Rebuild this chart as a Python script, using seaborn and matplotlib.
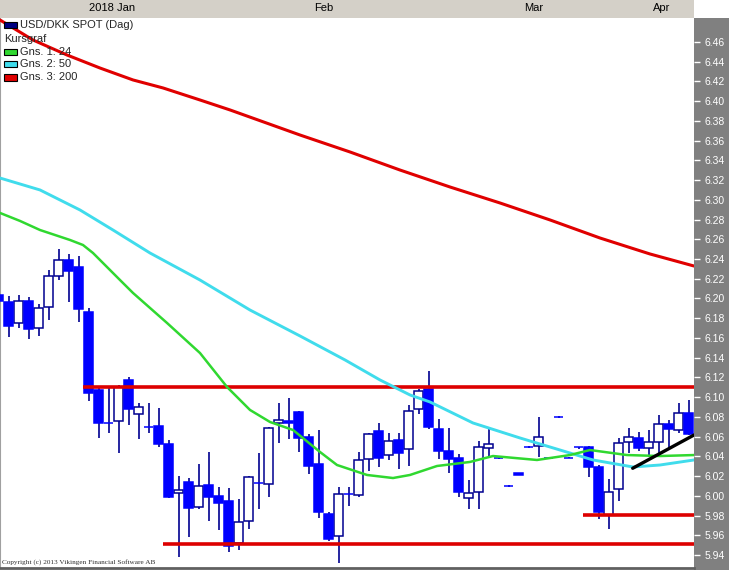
import matplotlib
matplotlib.use('Agg')

import matplotlib.pyplot as plt
from matplotlib.patches import Rectangle
import seaborn as sns
import numpy as np
import pandas as pd

# trading days on screen: Dec 29 2017 .. Apr 6 2018 (no Jan 1)
dates = pd.bdate_range('2017-12-29', '2018-04-06')
dates = dates[dates != pd.Timestamp('2018-01-01')]

open_ = [6.2035, 6.1967, 6.1748, 6.1975, 6.1698, 6.1917, 6.2228, 6.2390, 6.2316, 6.1863,
         6.1072, 6.0736, 6.0761, 6.1174, 6.0829, 6.0701, 6.0707, 6.0525, 6.0025, 6.0137,
         5.9889, 6.0109, 5.9998, 5.9947, 5.9526, 5.9744, 6.0128, 6.0116, 6.0741, 6.0758,
         6.0846, 6.0593, 6.0319, 5.9815, 5.9589, 6.0019, 6.0008, 6.0370, 6.0657, 6.0413,
         6.0566, 6.0471, 6.0880, 6.1079, 6.0677, 6.0457, 6.0383, 5.9975, 6.0041, 6.0481,
         6.0381, 6.0103, 6.0228, 6.0493, 6.0505, 6.0387, 6.0797, 6.0387, 6.0493, 6.0492,
         6.0289, 5.9805, 6.0066, 6.0542, 6.0589, 6.0481, 6.0548, 6.0728, 6.0667, 6.0836]
high = [6.2066, 6.2025, 6.2035, 6.2012, 6.1944, 6.2289, 6.2499, 6.2451, 6.2431, 6.1901,
        6.1116, 6.1106, 6.1123, 6.1207, 6.0938, 6.0944, 6.0893, 6.0566, 6.0201, 6.0177,
        6.0322, 6.0447, 6.0092, 6.0079, 5.9967, 6.0201, 6.0431, 6.0697, 6.0944, 6.0988,
        6.0859, 6.0626, 6.0667, 5.9836, 6.0086, 6.0092, 6.0441, 6.0640, 6.0741, 6.0640,
        6.0640, 6.0920, 6.1079, 6.1265, 6.0778, 6.0684, 6.0421, 6.0160, 6.0555, 6.0684,
        6.0388, 6.0110, 6.0232, 6.0500, 6.0796, 6.0394, 6.0804, 6.0394, 6.0498, 6.0505,
        6.0312, 6.0167, 6.0583, 6.0690, 6.0644, 6.0667, 6.0819, 6.0768, 6.0938, 6.0971]
low = [6.1944, 6.1613, 6.1698, 6.1592, 6.1623, 6.1782, 6.2187, 6.1967, 6.1765, 6.0964,
       6.0583, 6.0637, 6.0437, 6.0718, 6.0573, 6.0633, 6.0492, 5.9981, 5.9376, 5.9585,
       5.9863, 5.9747, 5.9653, 5.9430, 5.9450, 5.9660, 5.9863, 5.9991, 6.0532, 6.0576,
       6.0447, 6.0218, 5.9772, 5.9545, 5.9322, 5.9900, 5.9991, 6.0254, 6.0289, 6.0363,
       6.0269, 6.0302, 6.0826, 6.0677, 6.0373, 6.0228, 5.9985, 5.9863, 5.9863, 6.0396,
       6.0372, 6.0092, 6.0210, 6.0482, 6.0396, 6.0375, 6.0785, 6.0378, 6.0472, 6.0187,
       5.9762, 5.9660, 5.9950, 6.0431, 6.0454, 6.0396, 6.0413, 6.0481, 6.0633, 6.0616]
close = [6.1975, 6.1724, 6.1975, 6.1694, 6.1901, 6.2228, 6.2390, 6.2282, 6.1896, 6.1039,
         6.0735, 6.0735, 6.1100, 6.0877, 6.0897, 6.0700, 6.0522, 5.9991, 6.0059, 5.9873,
         6.0099, 5.9991, 5.9930, 5.9491, 5.9731, 6.0187, 6.0127, 6.0684, 6.0768, 6.0741,
         6.0583, 6.0305, 5.9833, 5.9559, 6.0015, 6.0018, 6.0363, 6.0626, 6.0386, 6.0555,
         6.0437, 6.0859, 6.1062, 6.0700, 6.0457, 6.0373, 6.0041, 6.0025, 6.0492, 6.0522,
         6.0380, 6.0102, 6.0214, 6.0492, 6.0593, 6.0386, 6.0796, 6.0386, 6.0492, 6.0289,
         5.9839, 6.0035, 6.0532, 6.0599, 6.0481, 6.0542, 6.0725, 6.0674, 6.0836, 6.0623]

# moving averages (x = bar number, Jan 2 = 0)
ma24_x = [-0.85, 1.15, 3.15, 6.15, 7.45, 8.45, 9.15, 11.15, 12.45, 15.85, 19.15, 21.85, 24.15,
          26.15, 28.45, 31.15, 32.85, 35.85, 38.45, 40.15, 42.85, 46.15, 48.45, 52.85, 56.15,
          58.15, 61.85, 65.15, 68.55]
ma24_y = [6.2867, 6.2786, 6.2694, 6.2593, 6.2542, 6.2461, 6.2390, 6.2187, 6.2056, 6.1752, 6.1447,
          6.1103, 6.0870, 6.0748, 6.0667, 6.0444, 6.0312, 6.0211, 6.0180, 6.0211, 6.0302, 6.0343,
          6.0403, 6.0363, 6.0413, 6.0464, 6.0413, 6.0403, 6.0413]
ma50_x = [-0.85, 3.15, 7.15, 10.45, 14.15, 19.15, 24.15, 29.15, 33.65, 37.15, 40.15, 42.15,
          46.45, 51.15, 55.15, 58.45, 62.45, 65.15, 68.55]
ma50_y = [6.3221, 6.3100, 6.2897, 6.2694, 6.2461, 6.2187, 6.1883, 6.1620, 6.1377, 6.1174, 6.1022,
          6.0951, 6.0738, 6.0586, 6.0464, 6.0363, 6.0292, 6.0312, 6.0363]
ma200_x = [-0.85, 2.45, 5.85, 9.15, 12.45, 15.45, 19.15, 22.15, 29.15, 34.15, 39.15, 44.15,
           49.15, 54.15, 59.15, 64.15, 68.55]
ma200_y = [6.4823, 6.4620, 6.4468, 6.4336, 6.4215, 6.4134, 6.4012, 6.3911, 6.3657, 6.3485,
           6.3302, 6.3130, 6.2968, 6.2796, 6.2613, 6.2451, 6.2329]

# drawn support / resistance lines
level_values = [6.1103, 5.9511, 5.9805]
level_start = [7.42, 15.42, 57.42]
trend_x = [62.42, 68.55]
trend_y = [6.0279, 6.0616]

legend_names = ['Gns. 1: 24', 'Gns. 2: 50', 'Gns. 3: 200']

W, H = 729, 570
PLOT_R = 694
BLUE = '#0000ff'
NAVY = '#000090'


def fig_xy(px, py):
    return px / W, 1 - py / H


def draw_candles(ax, x, o, h, l, c):
    o, h, l, c = map(np.asarray, (o, h, l, c))
    up = c >= o
    ax.vlines(x, l, h, color=NAVY, lw=1.2, zorder=2)
    bottom = np.minimum(o, c)
    height = np.abs(c - o)
    ax.bar(x[up], height[up], bottom=bottom[up], width=0.85,
           color='white', edgecolor=NAVY, lw=1.1, zorder=3)
    ax.bar(x[~up], height[~up], bottom=bottom[~up], width=0.85,
           color=BLUE, edgecolor=BLUE, lw=1.1, zorder=3)


sns.set_style('white')
plt.rcParams['font.family'] = ['Liberation Sans', 'DejaVu Sans']

fig = plt.figure(figsize=(W / 100, H / 100), dpi=100)
fig.patch.set_facecolor('white')

x = np.arange(len(dates)) - 1
xmin, xmax = -0.85, 68.55
ymin, ymax = 5.9268, 6.4843

# right price panel
fig.add_artist(Rectangle((PLOT_R / W, 0), (W - PLOT_R) / W, 552 / H,
                         transform=fig.transFigure, facecolor='#808080',
                         edgecolor='none', zorder=-1))

ax = fig.add_axes([0, 2 / H, PLOT_R / W, 550 / H])
draw_candles(ax, x, open_, high, low, close)

for lv, st in zip(level_values, level_start):
    ax.hlines(lv, st, xmax + 1, color='#dd0000', lw=2.6, zorder=4)
ax.plot(trend_x, trend_y, color='black', lw=2.4, zorder=6)

sns.lineplot(x=ma200_x, y=ma200_y, ax=ax, color='#e00000', lw=2.2, zorder=5)
sns.lineplot(x=ma50_x, y=ma50_y, ax=ax, color='#40dcec', lw=2.1, zorder=5)
sns.lineplot(x=ma24_x, y=ma24_y, ax=ax, color='#30d830', lw=1.8, zorder=5)

ax.set_xlim(xmin, xmax)
ax.set_ylim(ymin, ymax)
ax.set_xticks([])
ax.set_xlabel('')
ax.set_ylabel('')
ticks = np.round(np.arange(5.94, 6.47, 0.02), 2)
ax.set_yticks(ticks)
ax.set_yticklabels([f'{t:.2f}' for t in ticks])
ax.yaxis.tick_right()
ax.tick_params(axis='y', direction='out', length=4, width=1, color='white',
               labelcolor='white', labelsize=7.5, pad=3.5)
for side in ['top', 'right']:
    ax.spines[side].set_visible(False)
ax.spines['left'].set_color('#a0a0a0')
ax.spines['left'].set_linewidth(1.5)
ax.spines['bottom'].set_color('#606060')
ax.spines['bottom'].set_linewidth(2)

# header with months
hx = fig.add_axes([0, 1 - 18 / H, PLOT_R / W, 18 / H])
hx.set_facecolor('#d4d0c8')
hx.set_xlim(xmin, xmax)
hx.set_ylim(0, 1)
for s in hx.spines.values():
    s.set_visible(False)
months = dates.month
starts = [k for k in range(1, len(dates)) if months[k] != months[k - 1]]
bounds = [x[k] - 0.5 for k in starts[1:]]
hx.set_xticks(bounds)
hx.set_yticks([])
hx.tick_params(axis='x', direction='in', length=3.5, width=1, color='#303030',
               labelbottom=False)
edges = [xmin] + bounds + [xmax]
for k, k0 in enumerate(starts):
    d = dates[k0]
    name = d.strftime('%b')
    if k == 0:
        name = f'{d.year} {name}'
    cx = min((edges[k] + edges[k + 1]) / 2, xmax - 3.2)
    hx.text(cx, 0.55, name, ha='center', va='center', fontsize=8, color='black')

# legend
fig.add_artist(Rectangle(fig_xy(4, 28.3), 12.5 / W, 6 / H, transform=fig.transFigure,
                         facecolor='#000080', edgecolor='black', lw=0.8, zorder=10))
fig.text(*fig_xy(20.5, 25.5), 'USD/DKK SPOT (Dag)', fontsize=8, va='center', zorder=10)
fig.text(*fig_xy(4, 39), 'Kursgraf', fontsize=8, va='center', zorder=10)
box_rows = [52, 64, 77.5]
box_colors = ['#30d830', '#40dcec', '#e00000']
for name, yy, col in zip(legend_names, box_rows, box_colors):
    fig.add_artist(Rectangle(fig_xy(4, yy + 3), 12.5 / W, 6 / H, transform=fig.transFigure,
                             facecolor=col, edgecolor='black', lw=0.8, zorder=10))
    fig.text(*fig_xy(20.5, yy), name, fontsize=8, va='center', zorder=10)

fig.text(*fig_xy(2, 562), 'Copyright (c) 2013 Vikingen Financial Software AB',
         fontsize=5.2, family='Liberation Serif', va='center', color='#303030')

fig.savefig('out.png', dpi=100)
